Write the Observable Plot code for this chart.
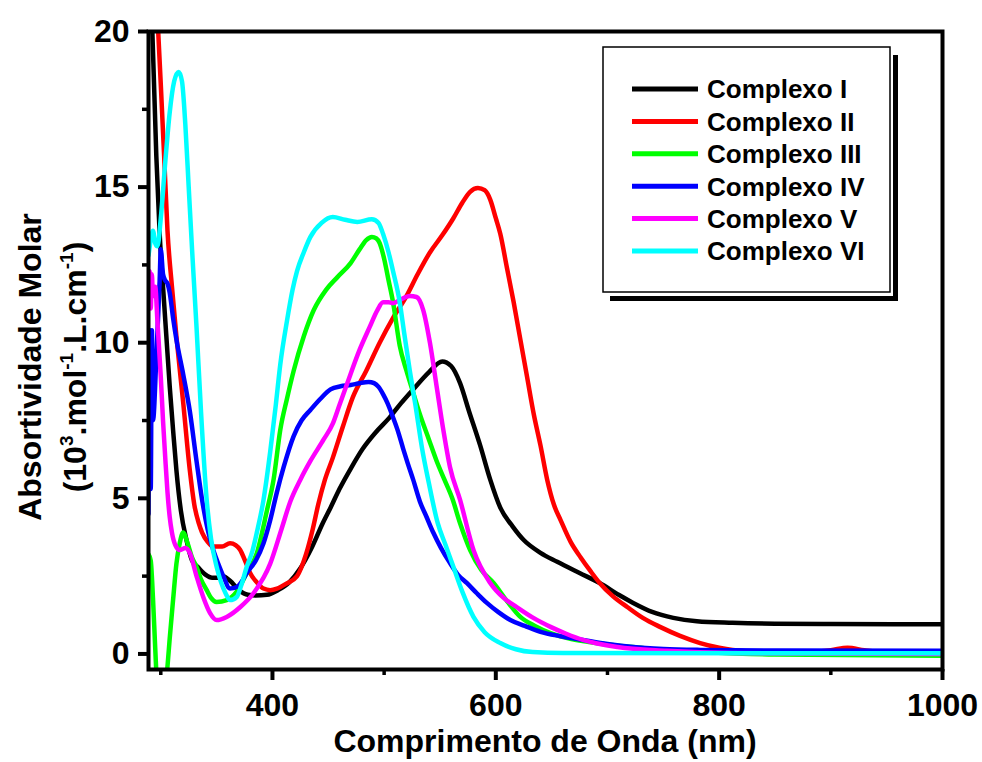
<!DOCTYPE html>
<html>
<head>
<meta charset="utf-8">
<script src="https://cdn.jsdelivr.net/npm/d3@7"></script>
<script src="https://cdn.jsdelivr.net/npm/@observablehq/plot@0.6"></script>
<style>
  html, body { margin: 0; padding: 0; background: #fff; }
  #chart svg { font-family: "Liberation Sans", Arial, sans-serif; }
</style>
</head>
<body>
<div id="chart"></div>
<script>
// ---- Data (wavelength nm, molar absorptivity 10^3 mol^-1 L cm^-1) ----
const seriesNames = ["Complexo I", "Complexo II", "Complexo III", "Complexo IV", "Complexo V", "Complexo VI"];
const seriesColors = ["#000000", "#ff0000", "#00ff00", "#0000ff", "#ff00ff", "#00ffff"];

const complexoI = [
  [292,20.5],[296,16.0],[299,13.5],[302,11.8],[305,10.2],[308,8.6],[311,7.2],[314,5.9],[318,4.6],[323,3.66],
  [328,3.0],[333,2.8],[340,2.55],[346,2.45],[352,2.45],[356,2.5],[362,2.35],[370,2.05],[378,1.9],[385,1.88],
  [395,1.9],[405,2.05],[415,2.3],[425,2.75],[435,3.4],[445,4.2],[452,4.7],[460,5.3],[470,5.95],[481,6.6],
  [492,7.1],[505,7.6],[515,8.05],[526,8.5],[540,9.05],[552,9.4],[560,9.25],[568,8.7],[576,7.8],[586,6.7],
  [595,5.6],[604,4.7],[615,4.1],[625,3.66],[640,3.25],[655,2.96],[675,2.6],[693,2.28],[710,1.9],[723,1.64],
  [740,1.35],[759,1.16],[780,1.05],[812,1.0],[850,0.97],[900,0.96],[1000,0.95]
];
const complexoII = [
  [297,20.5],[300,18.3],[303,16.0],[306,13.6],[310,11.8],[314,10.2],[320,8.1],[326,5.9],[330,4.8],[334,4.2],
  [337,3.9],[342,3.6],[347,3.45],[355,3.45],[362,3.56],[367,3.5],[371,3.35],[376,2.95],[380,2.6],[386,2.3],
  [392,2.1],[398,2.05],[404,2.1],[412,2.25],[422,2.5],[430,3.2],[436,4.0],[441,4.8],[447,5.6],[454,6.3],
  [463,7.3],[472,8.25],[484,9.1],[496,10.0],[508,10.8],[520,11.5],[530,12.2],[541,12.9],[552,13.45],[562,14.0],
  [570,14.5],[577,14.85],[584,14.97],[590,14.9],[595,14.6],[600,14.0],[604,13.5],[610,12.4],[616,11.3],[622,10.1],
  [628,8.9],[634,7.7],[640,6.7],[646,5.6],[652,4.8],[658,4.3],[667,3.6],[676,3.1],[685,2.65],[693,2.28],
  [705,1.85],[718,1.5],[732,1.15],[747,0.87],[765,0.58],[783,0.35],[800,0.2],[812,0.13],[840,0.07],[880,0.07],
  [900,0.12],[915,0.2],[930,0.12],[950,0.06],[1000,0.06]
];
const complexoIII = [
  [289,3.2],[291,3.0],[293,1.8],[295,0.2],[297,-1.2],[300,-1.8],[303,-1.5],[306,-0.4],[308,0.5],[311,1.73],
  [314,2.9],[317,3.56],[320,3.9],[324,3.56],[328,3.1],[332,2.8],[336,2.4],[341,2.06],[345,1.8],[350,1.67],
  [359,1.73],[368,2.0],[377,2.6],[386,3.24],[395,4.6],[401,5.6],[407,7.2],[413,8.2],[419,9.1],[428,10.2],
  [437,11.05],[448,11.7],[458,12.1],[470,12.56],[478,13.0],[484,13.3],[489,13.4],[493,13.35],[496,13.2],[500,12.7],
  [504,12.0],[508,11.3],[514,9.9],[520,9.1],[526,8.4],[532,7.7],[540,6.9],[547,6.2],[554,5.6],[561,5.0],
  [568,4.2],[577,3.34],[587,2.7],[598,2.28],[610,1.7],[622,1.19],[635,0.9],[649,0.67],[665,0.5],[682,0.39],
  [700,0.3],[723,0.22],[750,0.12],[783,0.06],[850,-0.02],[1000,-0.06]
];
const complexoIV = [
  [289,4.5],[290,10.4],[291,5.3],[292,10.4],[293,7.5],[296,9.5],[299,12.0],[300,13.0],[302,12.2],[304,12.0],
  [306,11.9],[308,11.6],[311,10.8],[314,10.1],[320,9.0],[326,7.8],[332,6.2],[337,4.95],[342,4.0],[347,3.34],
  [352,2.85],[356,2.5],[362,2.1],[368,2.15],[372,2.3],[377,2.6],[385,3.0],[392,3.56],[398,4.3],[404,5.2],
  [410,6.0],[419,7.0],[426,7.5],[434,7.84],[443,8.2],[452,8.5],[461,8.6],[470,8.64],[478,8.7],[486,8.74],
  [491,8.7],[495,8.58],[499,8.35],[503,8.06],[508,7.6],[512,7.2],[517,6.6],[521,6.14],[526,5.6],[532,4.9],
  [538,4.4],[544,3.9],[551,3.4],[559,2.92],[566,2.55],[574,2.28],[583,1.95],[592,1.64],[602,1.35],[613,1.09],
  [626,0.9],[640,0.71],[658,0.57],[678,0.45],[700,0.32],[723,0.22],[750,0.16],[783,0.13],[850,0.11],[1000,0.1]
];
const complexoV = [
  [289,11.5],[290,12.3],[291,11.1],[292,12.2],[293,11.5],[295,11.8],[297,10.7],[300,8.9],[302,7.5],[304,6.3],
  [306,5.2],[308,4.4],[310,3.9],[313,3.5],[317,3.34],[322,3.4],[326,3.24],[332,2.5],[338,1.83],[344,1.32],
  [350,1.09],[359,1.19],[371,1.5],[383,1.95],[398,2.9],[408,4.0],[416,4.9],[425,5.6],[434,6.2],[446,6.9],
  [454,7.4],[460,8.0],[467,8.7],[478,9.77],[487,10.5],[494,11.05],[499,11.3],[504,11.3],[508,11.27],[514,11.37],
  [523,11.5],[529,11.47],[535,11.05],[541,10.0],[547,8.6],[553,7.2],[559,6.0],[568,4.95],[580,3.34],[595,2.28],
  [607,1.8],[619,1.5],[634,1.15],[649,0.87],[663,0.65],[678,0.45],[709,0.22],[753,0.1],[812,0.03],[1000,0.0]
];
const complexoVI = [
  [289,12.8],[291,13.3],[293,13.6],[295,13.2],[297,13.1],[300,14.0],[304,15.8],[308,17.4],[312,18.4],[316,18.7],
  [319,18.4],[322,17.0],[325,15.0],[328,13.0],[332,10.5],[336,7.8],[341,5.0],[345,3.7],[350,2.8],[354,2.3],
  [358,1.95],[362,1.73],[368,1.83],[372,2.2],[377,2.8],[382,3.3],[386,3.9],[392,4.95],[398,6.5],[403,8.0],
  [407,9.3],[413,10.7],[418,11.7],[422,12.3],[428,12.9],[434,13.4],[444,13.85],[454,14.04],[465,13.95],[476,13.88],
  [489,13.97],[495,13.85],[499,13.5],[504,12.9],[508,12.3],[514,11.3],[518,10.3],[523,9.1],[528,8.0],[534,6.6],
  [540,5.5],[548,4.2],[555,3.5],[562,2.8],[570,2.0],[580,1.19],[590,0.7],[604,0.35],[618,0.15],[633,0.06],
  [660,0.03],[1000,0.02]
];

const xTicks = [400, 600, 800, 1000];
const xMinorTicks = [300, 500, 700, 900];
const yTicks = [0, 5, 10, 15, 20];
const yMinorTicks = [2.5, 7.5, 12.5, 17.5];

// ---- Build table ----
const seriesData = [complexoI, complexoII, complexoIII, complexoIV, complexoV, complexoVI];
const rows = seriesData.flatMap((arr, i) => arr.map(([wl, v]) => ({wl, v, series: seriesNames[i]})));

const W = 982, H = 762;
const plot = Plot.plot({
  width: W,
  height: H,
  marginLeft: 148,
  marginRight: 40,
  marginTop: 31,
  marginBottom: 93,
  style: {fontFamily: "'Liberation Sans', Arial, sans-serif", background: "#fff", overflow: "visible"},
  x: {domain: [289, 1000], label: null},
  y: {domain: [-0.5, 20], label: null},
  color: {domain: seriesNames, range: seriesColors},
  marks: [
    Plot.line(rows, {x: "wl", y: "v", z: "series", stroke: "series", strokeWidth: 4.5, curve: "monotone-x", clip: true}),
    Plot.frame({stroke: "#000", strokeWidth: 4}),
    Plot.axisX({ticks: xTicks, tickSize: 11, tickPadding: 13, strokeWidth: 4, fontSize: 32, fontWeight: "bold", label: null, tickFormat: d => String(d)}),
    Plot.axisX({ticks: xMinorTicks, tickSize: 6, strokeWidth: 3.5, tickFormat: () => "", label: null}),
    Plot.axisY({ticks: yTicks, tickSize: 10, tickPadding: 9, strokeWidth: 4, fontSize: 32, fontWeight: "bold", label: null, tickFormat: d => String(d)}),
    Plot.axisY({ticks: yMinorTicks, tickSize: 6, strokeWidth: 3.5, tickFormat: () => "", label: null})
  ]
});
document.getElementById("chart").appendChild(plot);

// ---- Titles ----
const svg = d3.select(plot);
const font = "'Liberation Sans', Arial, sans-serif";
svg.append("text")
  .attr("x", 545).attr("y", 752)
  .attr("text-anchor", "middle")
  .attr("font-family", font).attr("font-weight", "bold").attr("font-size", 32)
  .attr("fill", "#000")
  .text("Comprimento de Onda (nm)");

const yTitle = svg.append("g").attr("transform", "translate(0,367)");
yTitle.append("text")
  .attr("transform", "translate(41,0) rotate(-90)")
  .attr("text-anchor", "middle")
  .attr("font-family", font).attr("font-weight", "bold").attr("font-size", 32)
  .attr("fill", "#000")
  .text("Absortividade Molar");
const t2 = yTitle.append("text")
  .attr("transform", "translate(86,0) rotate(-90)")
  .attr("text-anchor", "middle")
  .attr("font-family", font).attr("font-weight", "bold").attr("font-size", 32)
  .attr("fill", "#000");
const parts = [["(10", 0], ["3", 1], [".mol", 0], ["-1", 1], [".L.cm", 0], ["-1", 1], [")", 0]];
parts.forEach(([s, sup], i) => {
  const ts = t2.append("tspan").text(s);
  if (sup) ts.attr("font-size", 19).attr("dy", -13);
  else if (i > 0 && parts[i - 1][1] === 1) ts.attr("dy", 13);
});

// ---- Legend ----
const lg = svg.append("g");
lg.append("rect").attr("x", 893).attr("y", 55).attr("width", 5).attr("height", 246).attr("fill", "#000");
lg.append("rect").attr("x", 610).attr("y", 296).attr("width", 288).attr("height", 5).attr("fill", "#000");
lg.append("rect").attr("x", 603).attr("y", 47).attr("width", 287).attr("height", 245)
  .attr("fill", "#fff").attr("stroke", "#000").attr("stroke-width", 1.5);
seriesNames.forEach((name, i) => {
  const cy = 89 + i * 32.4;
  lg.append("line").attr("x1", 632).attr("x2", 698).attr("y1", cy).attr("y2", cy)
    .attr("stroke", seriesColors[i]).attr("stroke-width", 5);
  lg.append("text").attr("x", 707).attr("y", cy).attr("dy", "0.36em")
    .attr("text-anchor", "start")
    .attr("font-family", font).attr("font-weight", "bold").attr("font-size", 26)
    .attr("fill", "#000").text(name);
});
</script>
</body>
</html>
